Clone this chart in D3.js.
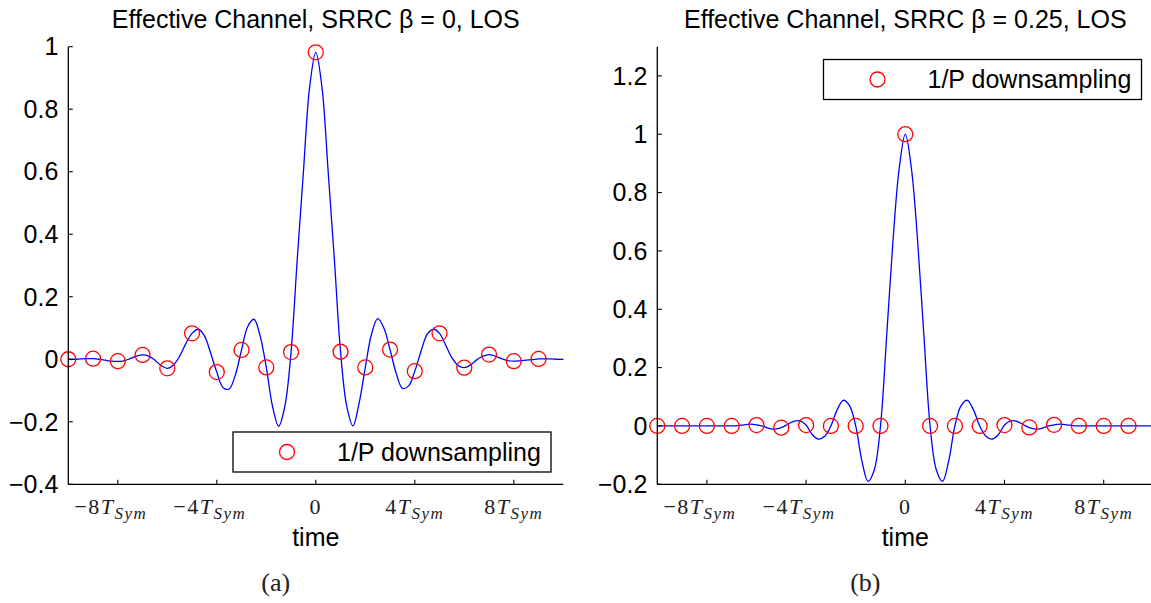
<!DOCTYPE html>
<html lang="en">
<head>
    <meta charset="UTF-8">
    <title>Effective Channel</title>
    <script src="https://d3js.org/d3.v7.min.js"></script>
    <style>
        body { margin: 0; background: #fff; }
    </style>
</head>
<body>
    <svg width="1151" height="603"></svg>

    <script>
        // time grid for the continuous curves (in symbol periods)
        const curveTime = [
            -10, -9.75, -9.5, -9.25, -9, -8.75, -8.5, -8.25, -8, -7.75, -7.5, -7.25,
            -7, -6.75, -6.5, -6.25, -6, -5.75, -5.5, -5.25, -5, -4.75, -4.5, -4.25,
            -4, -3.75, -3.5, -3.25, -3, -2.75, -2.5, -2.25, -2, -1.75, -1.5, -1.25,
            -1, -0.75, -0.5, -0.25, 0, 0.25, 0.5, 0.75, 1, 1.25, 1.5, 1.75,
            2, 2.25, 2.5, 2.75, 3, 3.25, 3.5, 3.75, 4, 4.25, 4.5, 4.75,
            5, 5.25, 5.5, 5.75, 6, 6.25, 6.5, 6.75, 7, 7.25, 7.5, 7.75,
            8, 8.25, 8.5, 8.75, 9, 9.25, 9.5, 9.75, 10
        ];

        // (a) SRRC beta = 0
        const curveA = [
            0, 0, 0.001, 0.002, 0.002, 0, -0.003, -0.006, -0.007, -0.005, 0.002, 0.01,
            0.014, 0.01, -0.003, -0.02, -0.029, -0.018, 0.01, 0.05, 0.083, 0.096, 0.075, 0.02,
            -0.041, -0.09, -0.095, -0.05, 0.03, 0.105, 0.128, 0.075, -0.026, -0.15, -0.214, -0.15,
            0.023, 0.32, 0.6, 0.87, 0.982, 0.87, 0.6, 0.32, 0.024, -0.15, -0.213, -0.14,
            -0.026, 0.08, 0.13, 0.1, 0.031, -0.045, -0.093, -0.085, -0.038, 0.025, 0.08, 0.096,
            0.083, 0.045, 0.005, -0.02, -0.027, -0.018, -0.002, 0.01, 0.015, 0.01, 0.002, -0.004,
            -0.006, -0.005, -0.003, -0.001, 0.001, 0.001, 0.001, 0, 0
        ];

        // (b) SRRC beta = 0.25
        const curveB = [
            0, 0, 0, 0, 0, 0, 0, 0, 0, 0, 0, 0,
            0, 0.001, 0.004, 0.006, 0.004, -0.001, -0.008, -0.011, -0.006, 0.005, 0.016, 0.017,
            0.003, -0.03, -0.045, -0.035, 0, 0.055, 0.088, 0.07, 0, -0.12, -0.19, -0.15,
            0, 0.31, 0.63, 0.88, 1.0, 0.88, 0.63, 0.31, 0, -0.15, -0.19, -0.12,
            0, 0.07, 0.088, 0.055, 0, -0.035, -0.045, -0.03, 0.003, 0.017, 0.016, 0.005,
            -0.006, -0.011, -0.008, -0.001, 0.004, 0.006, 0.004, 0.001, 0, 0, 0, 0,
            0, 0, 0, 0, 0, 0, 0, 0, 0
        ];

        // 1/P downsampling points
        const sampleTime = [-10, -9, -8, -7, -6, -5, -4, -3, -2, -1, 0, 1, 2, 3, 4, 5, 6, 7, 8, 9];
        const samplesA = [0, 0.002, -0.006, 0.014, -0.029, 0.083, -0.041, 0.03, -0.026, 0.023,
                          0.982, 0.024, -0.026, 0.031, -0.038, 0.083, -0.027, 0.015, -0.006, 0.001];
        const samplesB = [0, 0, 0, 0, 0.003, -0.006, 0.003, 0, 0, 0,
                          1.0, 0, 0, 0, 0.003, -0.005, 0.004, 0, 0, 0];

        const xTicks = [-8, -4, 0, 4, 8];
        const yTicksA = [-0.4, -0.2, 0, 0.2, 0.4, 0.6, 0.8, 1];
        const yTicksB = [-0.2, 0, 0.2, 0.4, 0.6, 0.8, 1, 1.2];

        const svg = d3.select("svg");
        const sans = "'Liberation Sans', Arial, sans-serif";
        const serif = "'Liberation Serif', 'Times New Roman', serif";

        function fmtY(v) {
            const s = d3.format("~g")(Math.abs(v));
            return v < 0 ? "\u2212" + s : s;
        }

        function drawPanel(p) {
            const x = d3.scaleLinear().domain([-10, 10]).range([p.left, p.right]);
            const y = d3.scaleLinear().domain(p.yDomain).range([484.3, 46.7]);
            const g = svg.append("g");

            // curve
            const pts = curveTime.map((t, i) => [t, p.curve[i]]);
            g.append("path")
                .datum(pts)
                .attr("fill", "none")
                .attr("stroke", "#0000ff")
                .attr("stroke-width", 1.3)
                .attr("d", d3.line().x(d => x(d[0])).y(d => y(d[1])).curve(d3.curveCatmullRom));

            // downsampled points
            g.selectAll(".smp")
                .data(sampleTime.map((t, i) => [t, p.samples[i]]))
                .enter().append("circle").attr("class", "smp")
                .attr("cx", d => x(d[0]))
                .attr("cy", d => y(d[1]))
                .attr("r", 7.5)
                .attr("fill", "none")
                .attr("stroke", "#ff0000")
                .attr("stroke-width", 1.3);

            // axes (left + bottom only, ticks inward)
            g.append("line")
                .attr("x1", p.left).attr("x2", p.left)
                .attr("y1", y.range()[1]).attr("y2", y.range()[0])
                .attr("stroke", "#000").attr("stroke-width", 1.3);
            g.append("line")
                .attr("x1", p.left).attr("x2", p.right)
                .attr("y1", y.range()[0]).attr("y2", y.range()[0])
                .attr("stroke", "#000").attr("stroke-width", 1.3);

            g.selectAll(".ytick")
                .data(p.yTicks)
                .enter().append("line").attr("class", "ytick")
                .attr("x1", p.left).attr("x2", p.left + 4.5)
                .attr("y1", d => y(d)).attr("y2", d => y(d))
                .attr("stroke", "#000").attr("stroke-width", 1.1);
            g.selectAll(".ylab")
                .data(p.yTicks)
                .enter().append("text").attr("class", "ylab")
                .attr("x", p.left - 10)
                .attr("y", d => y(d))
                .attr("dy", "0.35em")
                .attr("text-anchor", "end")
                .attr("font-family", sans)
                .attr("font-size", 25)
                .text(fmtY);

            g.selectAll(".xtick")
                .data(xTicks)
                .enter().append("line").attr("class", "xtick")
                .attr("x1", d => x(d)).attr("x2", d => x(d))
                .attr("y1", y.range()[0]).attr("y2", y.range()[0] - 4.5)
                .attr("stroke", "#000").attr("stroke-width", 1.1);

            const xl = g.selectAll(".xlab")
                .data(xTicks)
                .enter().append("text").attr("class", "xlab")
                .attr("x", d => x(d) + (d < 0 ? -7 : 0))
                .attr("y", 514)
                .attr("text-anchor", "middle")
                .attr("font-family", serif)
                .attr("font-size", 22)
                .attr("fill", "#222")
                .attr("letter-spacing", 1.5);
            xl.append("tspan")
                .text(d => d === 0 ? "0" : (d < 0 ? "\u2212" : "") + Math.abs(d));
            xl.filter(d => d !== 0).append("tspan")
                .attr("font-style", "italic")
                .text("T");
            xl.filter(d => d !== 0).append("tspan")
                .attr("font-style", "italic")
                .attr("font-size", 17)
                .attr("dy", 5)
                .text("Sym");

            const cx = (p.left + p.right) / 2;
            g.append("text")
                .attr("x", cx).attr("y", 546)
                .attr("text-anchor", "middle")
                .attr("font-family", sans).attr("font-size", 25)
                .text("time");
            g.append("text")
                .attr("x", cx).attr("y", 28)
                .attr("text-anchor", "middle")
                .attr("font-family", sans).attr("font-size", 25)
                .text(p.title);
            g.append("text")
                .attr("x", cx - 40).attr("y", 591)
                .attr("text-anchor", "middle")
                .attr("font-family", serif).attr("font-size", 26)
                .attr("fill", "#222")
                .text(p.caption);

            // legend
            const lg = g.append("g").attr("transform", `translate(${p.legX}, ${p.legY})`);
            lg.append("rect")
                .attr("width", 318).attr("height", 40)
                .attr("fill", "#fff")
                .attr("stroke", "#000").attr("stroke-width", 1.3);
            lg.append("circle")
                .attr("cx", 54).attr("cy", 20).attr("r", 7.5)
                .attr("fill", "none").attr("stroke", "#ff0000").attr("stroke-width", 1.3);
            lg.append("text")
                .attr("x", 104).attr("y", 20).attr("dy", "0.35em")
                .attr("font-family", sans).attr("font-size", 25)
                .text("1/P downsampling");
        }

        drawPanel({
            left: 68.3, right: 563.3, yDomain: [-0.4, 1],
            curve: curveA, samples: samplesA, yTicks: yTicksA,
            title: "Effective Channel, SRRC \u03b2 = 0, LOS", caption: "(a)",
            legX: 233, legY: 432
        });
        drawPanel({
            left: 657.3, right: 1153.3, yDomain: [-0.2, 1.3],
            curve: curveB, samples: samplesB, yTicks: yTicksB,
            title: "Effective Channel, SRRC \u03b2 = 0.25, LOS", caption: "(b)",
            legX: 823.5, legY: 59.5
        });
    </script>
</body>
</html>
